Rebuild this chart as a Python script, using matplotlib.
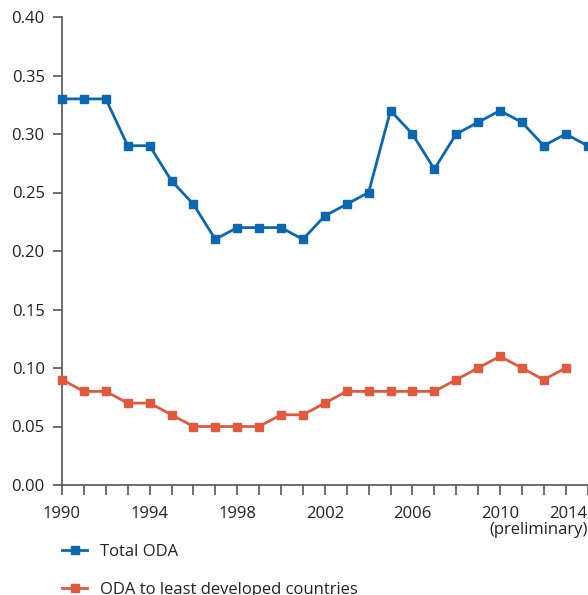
import matplotlib.pyplot as plt
from matplotlib.lines import Line2D

# --- data ---
years = list(range(1990, 2015))
total_oda = [0.33, 0.33, 0.33, 0.29, 0.29, 0.26, 0.24, 0.21, 0.22, 0.22, 0.22, 0.21,
             0.23, 0.24, 0.25, 0.32, 0.30, 0.27, 0.30, 0.31, 0.32, 0.31, 0.29, 0.30, 0.29]
ldc_years = list(range(1990, 2014))
ldc_oda = [0.09, 0.08, 0.08, 0.07, 0.07, 0.06, 0.05, 0.05, 0.05, 0.05, 0.06, 0.06,
           0.07, 0.08, 0.08, 0.08, 0.08, 0.08, 0.09, 0.10, 0.11, 0.10, 0.09, 0.10]
y_ticks = [0.00, 0.05, 0.10, 0.15, 0.20, 0.25, 0.30, 0.35, 0.40]
x_labels = {1990: "1990", 1994: "1994", 1998: "1998", 2002: "2002",
            2006: "2006", 2010: "2010", 2014: "2014\n(preliminary)"}

blue = "#0a67b0"
red = "#e05a3e"
grey = "#555555"
txt = "#222222"
fs = 12

plt.rcParams['font.family'] = ['Open Sans', 'DejaVu Sans']

fig = plt.figure(figsize=(5.88, 5.95), dpi=100)
ax = fig.add_axes([62 / 588, 1 - 485 / 595, (587.6 - 62) / 588, (485 - 17) / 595])

ax.plot(years, total_oda, color=blue, lw=2.0, marker='s', ms=5.3, clip_on=False, zorder=3)
ax.plot(ldc_years, ldc_oda, color=red, lw=2.0, marker='s', ms=5.3, clip_on=False, zorder=3)

ax.set_xlim(1990, 2014)
ax.set_ylim(0, 0.40)
ax.set_yticks(y_ticks)
ax.set_yticklabels([f"{v:.2f}" for v in y_ticks])
ax.set_xticks(years)
ax.set_xticklabels([x_labels.get(y, "") for y in years])

for s in ['top', 'right']:
    ax.spines[s].set_visible(False)
for s in ['left', 'bottom']:
    ax.spines[s].set_color(grey)
    ax.spines[s].set_linewidth(1.2)
ax.tick_params(axis='y', direction='out', length=6.5, width=1.2, color=grey,
               labelsize=fs, labelcolor=txt, pad=6)
ax.tick_params(axis='x', direction='out', length=7, width=1.2, color=grey,
               labelsize=fs, labelcolor=txt, pad=8)

# last year label sits flush with the right edge
last = ax.get_xticklabels()[-1]
last.set_horizontalalignment('right')
last.set_multialignment('right')
last.set_linespacing(1.0)

handles = [Line2D([], [], color=blue, lw=2.0, marker='s', ms=5.3),
           Line2D([], [], color=red, lw=2.0, marker='s', ms=5.3)]
fig.legend(handles, ["Total ODA", "ODA to least developed countries"],
           loc='upper left', bbox_to_anchor=(62 / 588, 1 - 544 / 595), frameon=False,
           borderaxespad=0, borderpad=0, fontsize=fs, handlelength=1.5,
           handletextpad=0.75, labelspacing=1.32, labelcolor=txt)

fig.savefig("out.png", dpi=100)
